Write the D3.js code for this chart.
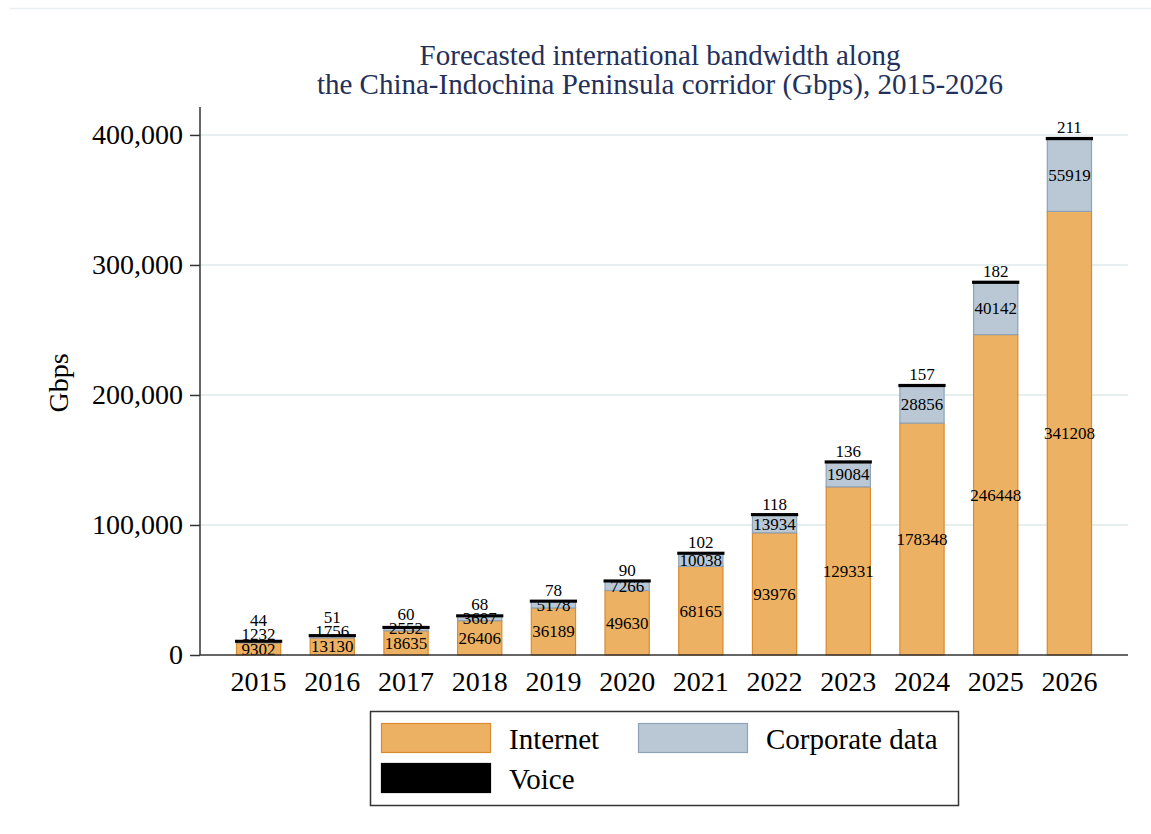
<!DOCTYPE html>
<html>
<head>
<meta charset="utf-8">
<script src="https://cdn.jsdelivr.net/npm/d3@7"></script>
<style>
  body { margin: 0; background: #fff; }
  text { font-family: "Liberation Serif", "Times New Roman", serif; }
</style>
</head>
<body>
<div id="chart"></div>
<script>
// data
var years = ["2015", "2016", "2017", "2018", "2019", "2020", "2021", "2022", "2023", "2024", "2025", "2026"];
var internet = [9302, 13130, 18635, 26406, 36189, 49630, 68165, 93976, 129331, 178348, 246448, 341208];
var corporate = [1232, 1756, 2552, 3687, 5178, 7266, 10038, 13934, 19084, 28856, 40142, 55919];
var voice = [44, 51, 60, 68, 78, 90, 102, 118, 136, 157, 182, 211];
var yTicks = [0, 100000, 200000, 300000, 400000];
var seriesNames = ["Internet", "Corporate data", "Voice"];

var W = 1151, H = 834;
var plotL = 200, plotR = 1128, plotT = 107, plotB = 655;

var svg = d3.select("#chart").append("svg").attr("width", W).attr("height", H);

// faint frame line at the top
svg.append("line").attr("x1", 10).attr("x2", W).attr("y1", 8.5).attr("y2", 8.5)
  .attr("stroke", "#e9eff1").attr("stroke-width", 1.5);

var x = d3.scaleBand().domain(years).range([plotL, plotR]).paddingInner(0.4).paddingOuter(0.495);
var y = d3.scaleLinear().domain([0, 421500]).range([plotB, plotT]);

// gridlines
svg.append("g").selectAll("line").data(yTicks.slice(1)).enter().append("line")
  .attr("x1", plotL).attr("x2", plotR)
  .attr("y1", function(d){ return y(d); }).attr("y2", function(d){ return y(d); })
  .attr("stroke", "#e6eef0").attr("stroke-width", 2);

var rows = years.map(function(yr, i){
  return { year: yr, Internet: internet[i], "Corporate data": corporate[i], Voice: voice[i] };
});
var stack = d3.stack().keys(seriesNames)(rows);

var fills = { "Internet": "#edb163", "Corporate data": "#b9c8d4", "Voice": "#000" };
var strokes = { "Internet": "#d98b2e", "Corporate data": "#8ea3b8", "Voice": "#000" };
var strokeW = { "Internet": 1.2, "Corporate data": 1.2, "Voice": 3 };

svg.append("g").selectAll("g").data(stack).enter().append("g")
  .each(function(s){
    d3.select(this).selectAll("rect").data(s).enter().append("rect")
      .attr("x", function(d){ return x(d.data.year); })
      .attr("width", x.bandwidth())
      .attr("y", function(d){ return y(d[1]); })
      .attr("height", function(d){ return Math.max(0.01, y(d[0]) - y(d[1])); })
      .attr("fill", fills[s.key])
      .attr("stroke", strokes[s.key])
      .attr("stroke-width", strokeW[s.key]);
  });

// value labels (small segments push the labels above upward)
var lab = svg.append("g").attr("font-size", 17).attr("fill", "#000").attr("text-anchor", "middle");
rows.forEach(function(r, i){
  var cx = x(r.year) + x.bandwidth() / 2;
  var s0 = stack[0][i], s1 = stack[1][i], s2 = stack[2][i];
  var cInt = (y(s0[0]) + y(s0[1])) / 2;
  var cCorp = Math.min((y(s1[0]) + y(s1[1])) / 2, cInt - 15);
  var bVoice = Math.min(y(s2[1]) - 5, cCorp - 8);
  lab.append("text").attr("x", cx).attr("y", cInt).attr("dy", "0.35em").text(r.Internet);
  lab.append("text").attr("x", cx).attr("y", cCorp).attr("dy", "0.35em").text(r["Corporate data"]);
  lab.append("text").attr("x", cx).attr("y", bVoice).text(r.Voice);
});

// axes
var yAxis = svg.append("g").attr("transform", "translate(" + plotL + ",0)")
  .call(d3.axisLeft(y).tickValues(yTicks).tickSize(10).tickPadding(7).tickFormat(d3.format(",")));
yAxis.select(".domain").attr("d", "M0," + plotT + "V" + plotB);
var xAxis = svg.append("g").attr("transform", "translate(0," + plotB + ")")
  .call(d3.axisBottom(x).tickSize(0).tickPadding(16));
xAxis.select(".domain").attr("d", "M" + plotL + ",0H" + plotR);
svg.selectAll(".domain").attr("stroke", "#333").attr("stroke-width", 1.5);
svg.selectAll(".tick line").attr("stroke", "#333").attr("stroke-width", 1.5);
svg.selectAll(".tick text").attr("font-family", "Liberation Serif, serif").attr("font-size", 28).attr("fill", "#000");

// y label
svg.append("text").attr("transform", "translate(68," + ((plotT + plotB) / 2 + 2) + ") rotate(-90)")
  .attr("text-anchor", "middle").attr("font-size", 28).text("Gbps");

// title
var title = svg.append("text").attr("text-anchor", "middle").attr("fill", "#23305a").attr("font-size", 29);
title.append("tspan").attr("x", 660).attr("y", 65).text("Forecasted international bandwidth along");
title.append("tspan").attr("x", 660).attr("y", 94).text("the China-Indochina Peninsula corridor (Gbps), 2015-2026");

// legend
var lg = svg.append("g");
lg.append("rect").attr("x", 370.5).attr("y", 711.5).attr("width", 588).attr("height", 94)
  .attr("fill", "#fff").attr("stroke", "#333").attr("stroke-width", 1.5);
var legendPos = [[381, 723], [638, 723], [381, 763]];
seriesNames.forEach(function(k, i){
  var p = legendPos[i];
  lg.append("rect").attr("x", p[0] + 0.5).attr("y", p[1] + 0.5).attr("width", 109).attr("height", 29)
    .attr("fill", fills[k]).attr("stroke", strokes[k]).attr("stroke-width", 1.2);
  lg.append("text").attr("x", p[0] + 128).attr("y", p[1] + 26).attr("font-size", 29).text(k);
});
</script>
</body>
</html>
